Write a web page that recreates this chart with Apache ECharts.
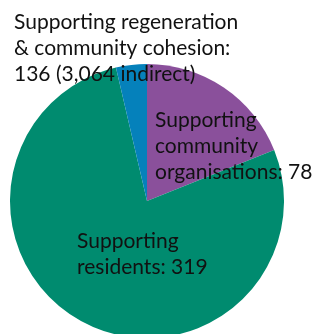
<!DOCTYPE html>
<html>
<head>
<meta charset="utf-8">
<script src="https://cdn.jsdelivr.net/npm/echarts@6/dist/echarts.min.js"></script>
<style>
  html, body { margin: 0; padding: 0; background: #fff; }
  #chart { width: 317px; height: 334px; }
</style>
</head>
<body>
<div id="chart"></div>
<script>
// slices in clockwise order from 12 o'clock
const categories = ["Supporting community organisations", "Supporting residents", "Supporting regeneration & community cohesion"];
const sliceValues = [78, 319, 15];
const labelTexts = [
  "Supporting\ncommunity\norganisations: 78",
  "Supporting\nresidents: 319",
  "Supporting regeneration\n& community cohesion:\n136 (3,064 indirect)"
];
const colors = ["#8a509b", "#008b6f", "#0581bb"];

// where each label box starts (left, top)
const labelPos = [[155, 107], [77, 228], [14, 9]];

const chart = echarts.init(document.getElementById("chart"));

const option = {
  animation: false,
  series: [
    {
      type: "pie",
      center: [147, 201],
      radius: 137,
      startAngle: 90,
      clockwise: true,
      data: categories.map((name, i) => ({
        name: name,
        value: sliceValues[i],
        itemStyle: { color: colors[i] },
        label: { formatter: labelTexts[i] }
      })),
      itemStyle: { borderWidth: 0 },
      label: {
        show: true,
        position: "inside",
        color: "#111",
        fontFamily: "Lato",
        fontSize: 21,
        lineHeight: 26,
        align: "left"
      },
      labelLine: { show: false },
      labelLayout: (params) => ({
        x: labelPos[params.dataIndex][0],
        y: labelPos[params.dataIndex][1],
        align: "left",
        verticalAlign: "top"
      })
    }
  ]
};

chart.setOption(option);
</script>
</body>
</html>
